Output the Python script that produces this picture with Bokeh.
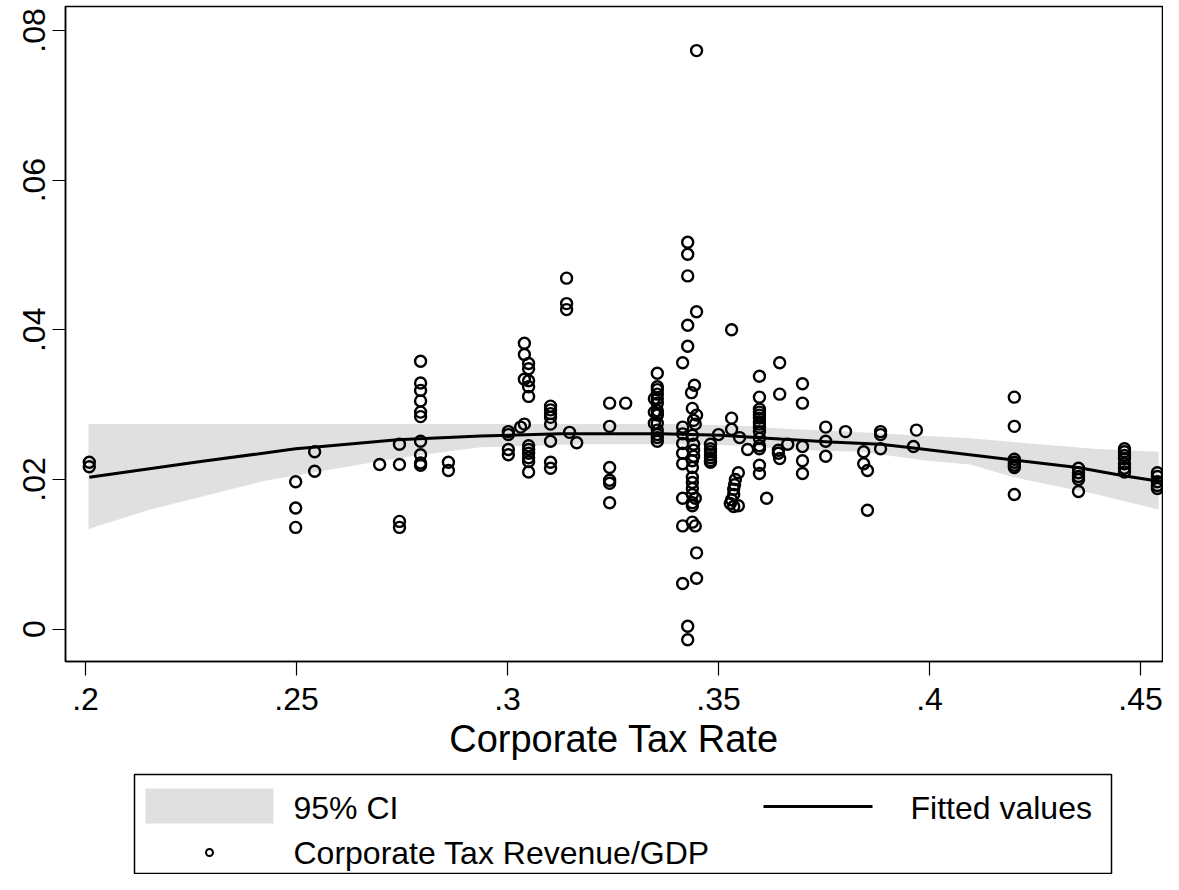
from bokeh.plotting import figure
from bokeh.models import Range1d, FixedTicker
from bokeh.layouts import column
from bokeh.embed import file_html
from bokeh.resources import INLINE
from bokeh.core.properties import value

# ---------------- data ----------------
tax_rate = [
    0.2009, 0.2009,
    0.2498, 0.2498, 0.2498,
    0.2543, 0.2543,
    0.2697,
    0.2744, 0.2744, 0.2744, 0.2744,
    0.2794, 0.2794, 0.2794, 0.2794, 0.2794, 0.2794, 0.2794, 0.2794, 0.2794, 0.2794,
    0.2860, 0.2860,
    0.3002, 0.3002, 0.3002, 0.3002,
    0.3031,
    0.3040, 0.3040, 0.3040, 0.3040,
    0.3050, 0.3050, 0.3050, 0.3050, 0.3050, 0.3050, 0.3050, 0.3050, 0.3050, 0.3050, 0.3050,
    0.3102, 0.3102, 0.3102, 0.3102, 0.3102, 0.3102, 0.3102, 0.3102,
    0.3140, 0.3140, 0.3140,
    0.3147, 0.3164,
    0.3242, 0.3242, 0.3242, 0.3242, 0.3242, 0.3242,
    0.3280,
    0.3355, 0.3355, 0.3355, 0.3355, 0.3355, 0.3355, 0.3355, 0.3355, 0.3355, 0.3355, 0.3355, 0.3355, 0.3355, 0.3355,
    0.3348, 0.3348, 0.3348,
    0.3427, 0.3427, 0.3427, 0.3448, 0.3427, 0.3427, 0.3415,
    0.3443, 0.3436, 0.3438, 0.3448, 0.3441, 0.3445, 0.3415, 0.3415, 0.3438, 0.3415,
    0.3441, 0.3441, 0.3415, 0.3441, 0.3438, 0.3415, 0.3438, 0.3438, 0.3438, 0.3438,
    0.3438, 0.3415, 0.3445, 0.3438, 0.3438, 0.3438, 0.3415, 0.3445, 0.3448, 0.3448,
    0.3415, 0.3427, 0.3427, 0.3448,
    0.3481, 0.3481, 0.3481, 0.3481, 0.3481, 0.3481, 0.3481,
    0.3500,
    0.3531, 0.3531, 0.3531,
    0.3547, 0.3547, 0.3540, 0.3538, 0.3536, 0.3536, 0.3536, 0.3531, 0.3528,
    0.3550, 0.3569,
    0.3597, 0.3597, 0.3597, 0.3597, 0.3597, 0.3597, 0.3597, 0.3597, 0.3597, 0.3597,
    0.3597, 0.3597, 0.3597, 0.3597, 0.3597,
    0.3614,
    0.3645, 0.3645, 0.3645, 0.3664, 0.3642, 0.3642,
    0.3699, 0.3699, 0.3699, 0.3699, 0.3699,
    0.3754, 0.3754, 0.3754,
    0.3801,
    0.3844, 0.3844, 0.3853, 0.3853,
    0.3884, 0.3884, 0.3884,
    0.3969, 0.3962,
    0.4201, 0.4201, 0.4201, 0.4201, 0.4201, 0.4201, 0.4201,
    0.4353, 0.4353, 0.4353, 0.4353, 0.4353,
    0.4462, 0.4462, 0.4462, 0.4462, 0.4462, 0.4462, 0.4462,
    0.4540, 0.4540, 0.4540, 0.4540, 0.4540,
]
revenue_gdp = [
    0.0223, 0.0217,
    0.0197, 0.0162, 0.0136,
    0.0237, 0.0211,
    0.0220,
    0.0247, 0.0220, 0.0144, 0.0136,
    0.0358, 0.0329, 0.0319, 0.0305, 0.0290, 0.0284, 0.0251, 0.0233, 0.0222, 0.0219,
    0.0223, 0.0212,
    0.0264, 0.0260, 0.0240, 0.0233,
    0.0270,
    0.0382, 0.0367, 0.0334, 0.0274,
    0.0355, 0.0348, 0.0332, 0.0324, 0.0311, 0.0245, 0.0240, 0.0235, 0.0229, 0.0224, 0.0210,
    0.0298, 0.0293, 0.0288, 0.0283, 0.0274, 0.0251, 0.0223, 0.0215,
    0.0469, 0.0435, 0.0427,
    0.0263, 0.0249,
    0.0302, 0.0271, 0.0216, 0.0199, 0.0195, 0.0169,
    0.0302,
    0.0342, 0.0324, 0.0320, 0.0314, 0.0308, 0.0302, 0.0292, 0.0288, 0.0286, 0.0275, 0.0266, 0.0260, 0.0256, 0.0251,
    0.0308, 0.0290, 0.0275,
    0.0517, 0.0501, 0.0472, 0.0424, 0.0406, 0.0378, 0.0356,
    0.0326, 0.0316, 0.0295, 0.0286, 0.0279, 0.0274, 0.0270, 0.0261, 0.0259, 0.0248,
    0.0247, 0.0239, 0.0235, 0.0231, 0.0225, 0.0221, 0.0216, 0.0203, 0.0196, 0.0188,
    0.0180, 0.0175, 0.0175, 0.0169, 0.0165, 0.0143, 0.0138, 0.0138, 0.0102, 0.0068,
    0.0061, 0.0004, -0.0014, 0.0773,
    0.0247, 0.0241, 0.0237, 0.0233, 0.0229, 0.0225, 0.0223,
    0.0260,
    0.0400, 0.0282, 0.0267,
    0.0209, 0.0165, 0.0200, 0.0193, 0.0187, 0.0180, 0.0164, 0.0173, 0.0168,
    0.0256, 0.0240,
    0.0338, 0.0310, 0.0294, 0.0290, 0.0286, 0.0282, 0.0277, 0.0274, 0.0270, 0.0264,
    0.0255, 0.0245, 0.0241, 0.0219, 0.0208,
    0.0175,
    0.0356, 0.0314, 0.0228, 0.0247, 0.0239, 0.0235,
    0.0328, 0.0302, 0.0244, 0.0225, 0.0208,
    0.0270, 0.0251, 0.0231,
    0.0264,
    0.0237, 0.0221, 0.0212, 0.0159,
    0.0264, 0.0260, 0.0241,
    0.0266, 0.0244,
    0.0310, 0.0271, 0.0227, 0.0223, 0.0219, 0.0216, 0.0180,
    0.0215, 0.0209, 0.0204, 0.0200, 0.0184,
    0.0241, 0.0237, 0.0232, 0.0228, 0.0221, 0.0215, 0.0210,
    0.0209, 0.0204, 0.0197, 0.0192, 0.0188,
]

fit_x = [0.2009, 0.2273, 0.2498, 0.2540, 0.2739, 0.2936, 0.3126, 0.3363, 0.3505,
         0.3647, 0.3765, 0.3884, 0.3962, 0.4199, 0.4351, 0.4460, 0.4540]
fit_y = [0.0203, 0.0224, 0.0241, 0.0243, 0.0253, 0.0258, 0.0261, 0.0261, 0.0259,
         0.0254, 0.0250, 0.0247, 0.0242, 0.0226, 0.0216, 0.0205, 0.0198]

ci_x = [0.2007, 0.2154, 0.2431, 0.2746, 0.2936, 0.3173, 0.3410, 0.3576, 0.3647,
        0.3837, 0.3995, 0.4097, 0.4199, 0.4389, 0.4543]
ci_hi = [0.0274, 0.0274, 0.0274, 0.0274, 0.0274, 0.0274, 0.0274, 0.0271, 0.0268,
         0.0263, 0.0258, 0.0255, 0.0250, 0.0241, 0.0237]
ci_lo = [0.0134, 0.0160, 0.0199, 0.0229, 0.0243, 0.0247, 0.0247, 0.0245, 0.0240,
         0.0237, 0.0225, 0.0220, 0.0203, 0.0181, 0.0160]

x_ticks = [0.2, 0.25, 0.3, 0.35, 0.4, 0.45]
x_tick_labels = [".2", ".25", ".3", ".35", ".4", ".45"]
y_ticks = [0.0, 0.02, 0.04, 0.06, 0.08]
y_tick_labels = ["0", ".02", ".04", ".06", ".08"]

x_title = "Corporate Tax Rate"
legend_labels = ["95% CI", "Fitted values", "Corporate Tax Revenue/GDP"]

# ---------------- styles / layout ----------------
FONT = "Liberation Sans"
BAND = "#e0e0e0"
W = 1163
FRAME_L, FRAME_R = 65, 1162
MAIN_H = 765
LEG_H = 874 - MAIN_H

p = figure(width=W, height=MAIN_H, output_backend="svg", toolbar_location=None,
           x_range=Range1d(0.19526, 0.45521), y_range=Range1d(-0.004315, 0.08319),
           min_border_left=FRAME_L, min_border_right=W - FRAME_R, min_border_top=6,
           min_border_bottom=MAIN_H - 661)
p.background_fill_color = "white"
p.border_fill_color = "white"
p.outline_line_color = "black"
p.outline_line_width = 1.5
p.grid.visible = False

p.varea(x=ci_x, y1=ci_lo, y2=ci_hi, fill_color=BAND)
p.scatter(tax_rate, revenue_gdp, marker="circle", size=11, fill_color=None,
          line_color="black", line_width=2.4)
p.line(fit_x, fit_y, line_color="black", line_width=3)

xa = p.xaxis[0]
xa.ticker = FixedTicker(ticks=x_ticks)
xa.major_label_overrides = {t: l for t, l in zip(x_ticks, x_tick_labels)}
xa.minor_tick_line_color = None
xa.major_tick_in = 0
xa.major_tick_out = 14
xa.major_tick_line_width = 1.2
xa.axis_line_width = 1.5
xa.major_label_standoff = 12
xa.major_label_text_font = FONT
xa.major_label_text_font_size = "32px"
xa.major_label_text_color = "black"
xa.axis_label = x_title
xa.axis_label_text_font = FONT
xa.axis_label_text_font_size = "38px"
xa.axis_label_text_font_style = "normal"
xa.axis_label_text_color = "black"
xa.axis_label_standoff = 5

ya = p.yaxis[0]
ya.ticker = FixedTicker(ticks=y_ticks)
ya.major_label_overrides = {t: l for t, l in zip(y_ticks, y_tick_labels)}
ya.minor_tick_line_color = None
ya.major_tick_in = 0
ya.major_tick_out = 13
ya.major_tick_line_width = 1.2
ya.axis_line_width = 1.5
ya.major_label_standoff = 7
ya.major_label_orientation = "vertical"
ya.major_label_text_font = FONT
ya.major_label_text_font_size = "32px"
ya.major_label_text_color = "black"

# ---------------- legend panel (page-pixel coordinates) ----------------
lf = figure(width=W, height=LEG_H, output_backend="svg", toolbar_location=None,
            x_range=Range1d(FRAME_L, FRAME_R), y_range=Range1d(0, LEG_H),
            x_axis_type=None, y_axis_type=None,
            min_border_left=FRAME_L, min_border_right=W - FRAME_R,
            min_border_top=0, min_border_bottom=0)
lf.grid.visible = False
lf.outline_line_color = None
lf.background_fill_color = "white"
lf.border_fill_color = "white"


def ly(page_y):
    return MAIN_H + LEG_H - page_y


lf.quad(left=[134], right=[1111], bottom=[ly(873)], top=[ly(774)],
        fill_color=None, line_color="black", line_width=1.5)
lf.quad(left=[145], right=[273], bottom=[ly(823)], top=[ly(788)],
        fill_color=BAND, line_color=None)
lf.line([763, 872], [ly(806), ly(806)], line_color="black", line_width=3)
lf.scatter([209], [ly(852)], marker="circle", size=7, fill_color=None,
           line_color="black", line_width=2)
lf.text(x=[293, 910, 293], y=[ly(807), ly(807), ly(852)], text=legend_labels,
        text_font=value(FONT), text_font_size="32px", text_color="black",
        text_baseline="middle", text_align="left")

layout = column(p, lf, spacing=0)
open("out.html", "w").write(file_html(layout, INLINE))
